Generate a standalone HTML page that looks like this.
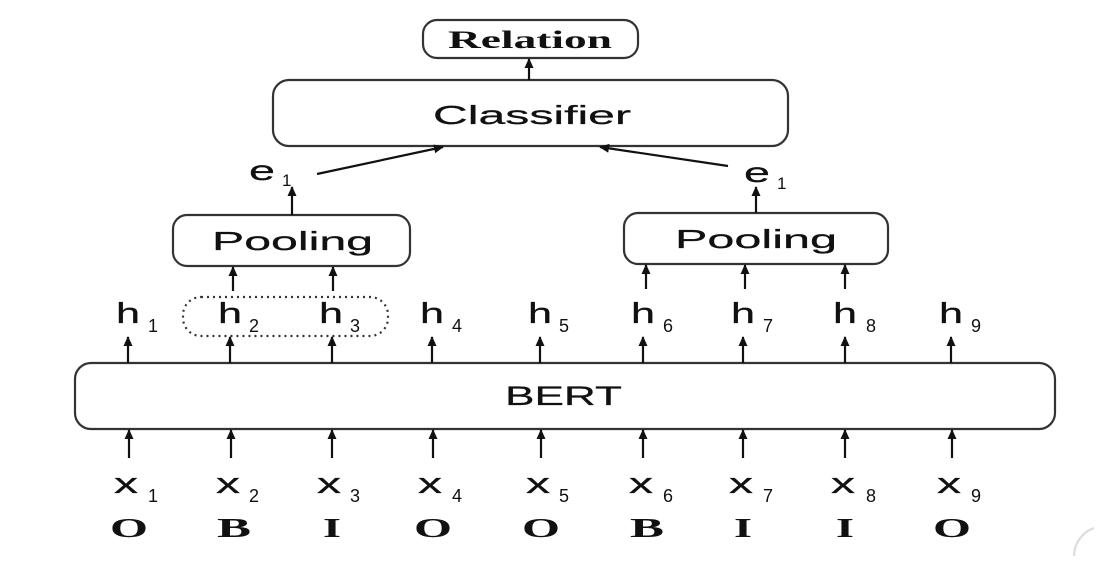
<!DOCTYPE html>
<html><head><meta charset="utf-8"><style>html,body{margin:0;padding:0;background:#fff}svg{display:block}</style></head>
<body>
<svg width="1096" height="564" viewBox="0 0 1096 564" xmlns="http://www.w3.org/2000/svg">
<defs><marker id="a" markerWidth="10" markerHeight="10" refX="9" refY="5" orient="auto" markerUnits="userSpaceOnUse"><path d="M0,0.5 L10,5 L0,9.5 z" fill="#111"/></marker></defs>
<g fill="none" stroke="#333" stroke-width="2.2">
<rect x="423" y="20" width="215" height="38" rx="14"/>
<rect x="273" y="80" width="515" height="66" rx="16"/>
<rect x="173" y="215" width="237" height="51" rx="14"/>
<rect x="624" y="213" width="264" height="51" rx="14"/>
<rect x="75" y="363" width="980" height="66" rx="16"/>
<rect x="183" y="297" width="205" height="39" rx="18" stroke-dasharray="2,4"/>
<path d="M1094,528 A30,30 0 0 0 1074,556" stroke="#ddd"/>
</g>
<g stroke="#111" stroke-width="2.2" marker-end="url(#a)">
<line x1="529" y1="80" x2="529" y2="59"/>
<line x1="317" y1="174" x2="443" y2="147"/>
<line x1="728" y1="166" x2="600" y2="147"/>
<line x1="292" y1="215" x2="292" y2="187"/>
<line x1="756" y1="213" x2="756" y2="187"/>
<line x1="233" y1="291" x2="233" y2="267"/>
<line x1="333" y1="291" x2="333" y2="267"/>
<line x1="646" y1="289" x2="646" y2="265"/>
<line x1="745" y1="289" x2="745" y2="265"/>
<line x1="845" y1="289" x2="845" y2="265"/>
<line x1="128" y1="363" x2="128" y2="337"/><line x1="230" y1="363" x2="230" y2="337"/><line x1="332" y1="363" x2="332" y2="337"/>
<line x1="432" y1="363" x2="432" y2="337"/><line x1="540" y1="363" x2="540" y2="337"/><line x1="643" y1="363" x2="643" y2="337"/>
<line x1="743" y1="363" x2="743" y2="337"/><line x1="845" y1="363" x2="845" y2="337"/><line x1="951" y1="363" x2="951" y2="337"/>
<line x1="129" y1="458" x2="129" y2="430"/><line x1="231" y1="458" x2="231" y2="430"/><line x1="332" y1="458" x2="332" y2="430"/>
<line x1="433" y1="458" x2="433" y2="430"/><line x1="541" y1="458" x2="541" y2="430"/><line x1="643" y1="458" x2="643" y2="430"/>
<line x1="743" y1="458" x2="743" y2="430"/><line x1="845" y1="458" x2="845" y2="430"/><line x1="952" y1="458" x2="952" y2="430"/>
</g>
<g font-family="Liberation Sans, sans-serif" fill="#111" stroke="#111" stroke-width="0.25">
<text x="448" y="48" font-family="Liberation Serif, serif" font-weight="bold" font-size="25" stroke-width="0" textLength="164" lengthAdjust="spacingAndGlyphs">Relation</text>
<text x="433" y="124" font-size="26" textLength="198" lengthAdjust="spacingAndGlyphs">Classifier</text>
<text x="212" y="250" font-size="26" textLength="161" lengthAdjust="spacingAndGlyphs">Pooling</text>
<text x="675" y="248" font-size="26" textLength="162" lengthAdjust="spacingAndGlyphs">Pooling</text>
<text x="505" y="405" font-size="27" textLength="117" lengthAdjust="spacingAndGlyphs">BERT</text>
<text x="249" y="180" font-size="28" textLength="26" lengthAdjust="spacingAndGlyphs">e</text><text x="282" y="186" font-size="17" stroke-width="0">1</text>
<text x="744" y="182" font-size="28" textLength="26" lengthAdjust="spacingAndGlyphs">e</text><text x="777" y="189" font-size="17" stroke-width="0">1</text>
</g>
<g font-family="Liberation Sans, sans-serif" fill="#111" stroke="#111" stroke-width="0.25" font-size="29">
<text x="116" y="323" textLength="24" lengthAdjust="spacingAndGlyphs">h</text>
<text x="218" y="323" textLength="24" lengthAdjust="spacingAndGlyphs">h</text>
<text x="319" y="323" textLength="24" lengthAdjust="spacingAndGlyphs">h</text>
<text x="420" y="323" textLength="24" lengthAdjust="spacingAndGlyphs">h</text>
<text x="528" y="323" textLength="24" lengthAdjust="spacingAndGlyphs">h</text>
<text x="631" y="323" textLength="24" lengthAdjust="spacingAndGlyphs">h</text>
<text x="731" y="323" textLength="24" lengthAdjust="spacingAndGlyphs">h</text>
<text x="833" y="323" textLength="24" lengthAdjust="spacingAndGlyphs">h</text>
<text x="939" y="323" textLength="24" lengthAdjust="spacingAndGlyphs">h</text>
<text x="114" y="493" textLength="24" lengthAdjust="spacingAndGlyphs">x</text>
<text x="216" y="493" textLength="24" lengthAdjust="spacingAndGlyphs">x</text>
<text x="317" y="493" textLength="24" lengthAdjust="spacingAndGlyphs">x</text>
<text x="418" y="493" textLength="24" lengthAdjust="spacingAndGlyphs">x</text>
<text x="526" y="493" textLength="24" lengthAdjust="spacingAndGlyphs">x</text>
<text x="629" y="493" textLength="24" lengthAdjust="spacingAndGlyphs">x</text>
<text x="729" y="493" textLength="24" lengthAdjust="spacingAndGlyphs">x</text>
<text x="831" y="493" textLength="24" lengthAdjust="spacingAndGlyphs">x</text>
<text x="937" y="493" textLength="24" lengthAdjust="spacingAndGlyphs">x</text>
<g font-size="18" stroke-width="0">
<text x="148" y="332">1</text><text x="249" y="332">2</text><text x="350" y="332">3</text>
<text x="452" y="332">4</text><text x="559" y="332">5</text><text x="663" y="332">6</text>
<text x="763" y="332">7</text><text x="866" y="332">8</text><text x="971" y="332">9</text>
<text x="148" y="502">1</text><text x="249" y="502">2</text><text x="350" y="502">3</text>
<text x="452" y="502">4</text><text x="559" y="502">5</text><text x="663" y="502">6</text>
<text x="763" y="502">7</text><text x="866" y="502">8</text><text x="971" y="502">9</text>
</g>
</g>
<g font-family="Liberation Serif, serif" font-weight="bold" fill="#111" font-size="27">
<text x="110" y="537" textLength="38" lengthAdjust="spacingAndGlyphs">O</text>
<text x="217" y="537" textLength="34" lengthAdjust="spacingAndGlyphs">B</text>
<text x="323" y="537" textLength="18" lengthAdjust="spacingAndGlyphs">I</text>
<text x="414" y="537" textLength="38" lengthAdjust="spacingAndGlyphs">O</text>
<text x="522" y="537" textLength="38" lengthAdjust="spacingAndGlyphs">O</text>
<text x="630" y="537" textLength="34" lengthAdjust="spacingAndGlyphs">B</text>
<text x="734" y="537" textLength="18" lengthAdjust="spacingAndGlyphs">I</text>
<text x="836" y="537" textLength="18" lengthAdjust="spacingAndGlyphs">I</text>
<text x="933" y="537" textLength="38" lengthAdjust="spacingAndGlyphs">O</text>
</g>
</svg>
</body></html>
